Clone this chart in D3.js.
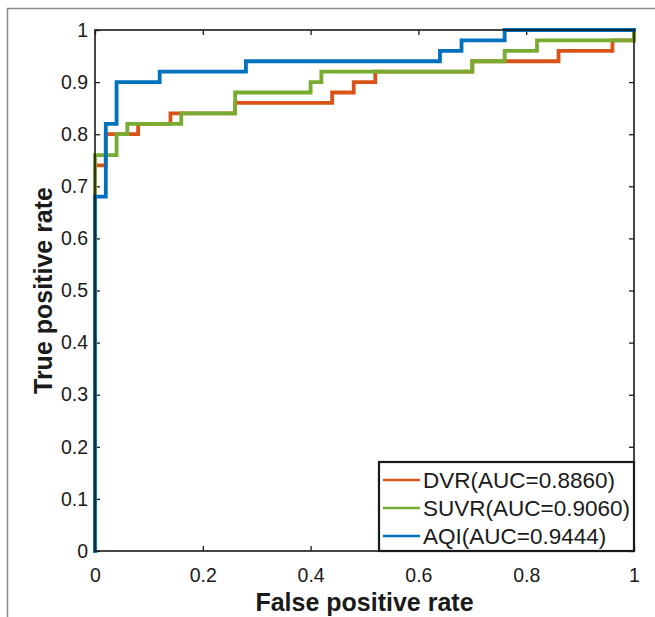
<!DOCTYPE html>
<html>
<head>
<meta charset="utf-8">
<script src="https://cdn.jsdelivr.net/npm/d3@7"></script>
<style>
  html, body { margin: 0; padding: 0; background: #fff; }
  svg { display: block; font-family: "Liberation Sans", Arial, Helvetica, sans-serif; }
</style>
</head>
<body>
<svg id="chart" width="655" height="617"></svg>
<script>
// ---- data (step vertices, curveStepAfter) ----
const dvrFpr  = [0, 0,    0.02, 0.08, 0.14, 0.26, 0.44, 0.48, 0.52, 0.70, 0.86, 0.96, 1];
const dvrTpr  = [0, 0.74, 0.80, 0.82, 0.84, 0.86, 0.88, 0.90, 0.92, 0.94, 0.96, 0.98, 1];
const suvrFpr = [0, 0,    0.04, 0.06, 0.16, 0.26, 0.40, 0.42, 0.70, 0.76, 0.82, 1];
const suvrTpr = [0, 0.76, 0.80, 0.82, 0.84, 0.88, 0.90, 0.92, 0.94, 0.96, 0.98, 1];
const aqiFpr  = [0, 0,    0.02, 0.04, 0.12, 0.28, 0.64, 0.68, 0.76, 1];
const aqiTpr  = [0, 0.68, 0.82, 0.90, 0.92, 0.94, 0.96, 0.98, 1.00, 1];

const seriesNames  = ["DVR(AUC=0.8860)", "SUVR(AUC=0.9060)", "AQI(AUC=0.9444)"];
const seriesColors = ["#D95319", "#77AC30", "#0072BD"];

const xTicks = [0, 0.2, 0.4, 0.6, 0.8, 1];
const xTickLabels = ["0", "0.2", "0.4", "0.6", "0.8", "1"];
const yTicks = [0, 0.1, 0.2, 0.3, 0.4, 0.5, 0.6, 0.7, 0.8, 0.9, 1];
const yTickLabels = ["0", "0.1", "0.2", "0.3", "0.4", "0.5", "0.6", "0.7", "0.8", "0.9", "1"];

const xLabel = "False positive rate";
const yLabel = "True positive rate";

// ---- layout ----
const svg = d3.select("#chart");
const L = 95, R = 634, T = 30, B = 551;
const x = d3.scaleLinear().domain([0, 1]).range([L, R]);
const y = d3.scaleLinear().domain([0, 1]).range([B, T]);
const textColor = "#1a1a1a";

// outer figure frame (top & left)
svg.append("path")
  .attr("d", "M7.5,617 L7.5,8.5 L655,8.5")
  .attr("fill", "none").attr("stroke", "#8a8a8a").attr("stroke-width", 1.5);

// axes
function styleAxis(g) {
  g.select(".domain").remove();
  g.selectAll(".tick line").attr("stroke", "#1a1a1a").attr("stroke-width", 1.3);
  g.selectAll(".tick text").attr("fill", textColor)
    .style("font-size", "19.5px").style("font-family", "'Liberation Sans', Arial, sans-serif");
}

svg.append("g").attr("transform", `translate(0,${B})`)
  .call(d3.axisBottom(x).tickValues(xTicks).tickFormat((d, i) => xTickLabels[i])
    .tickSizeInner(-5).tickSizeOuter(0).tickPadding(17))
  .call(styleAxis);
svg.append("g").attr("transform", `translate(0,${T})`)
  .call(d3.axisTop(x).tickValues(xTicks).tickFormat("")
    .tickSizeInner(-5).tickSizeOuter(0))
  .call(styleAxis);
svg.append("g").attr("transform", `translate(${L},0)`)
  .call(d3.axisLeft(y).tickValues(yTicks).tickFormat((d, i) => yTickLabels[i])
    .tickSizeInner(-5).tickSizeOuter(0).tickPadding(7))
  .call(styleAxis);
svg.append("g").attr("transform", `translate(${R},0)`)
  .call(d3.axisRight(y).tickValues(yTicks).tickFormat("")
    .tickSizeInner(-5).tickSizeOuter(0))
  .call(styleAxis);

// curves
const line = d3.line().x(d => x(d[0])).y(d => y(d[1])).curve(d3.curveStepAfter);
const series = [
  d3.zip(dvrFpr, dvrTpr),
  d3.zip(suvrFpr, suvrTpr),
  d3.zip(aqiFpr, aqiTpr)
];
series.forEach((pts, i) => {
  svg.append("path")
    .attr("d", line(pts))
    .attr("fill", "none")
    .attr("stroke", seriesColors[i])
    .attr("stroke-width", 3.8)
    .attr("stroke-linejoin", "miter")
    .attr("stroke-linecap", "square");
});

// box
svg.append("rect")
  .attr("x", L).attr("y", T).attr("width", R - L).attr("height", B - T)
  .attr("fill", "none").attr("stroke", "#1a1a1a").attr("stroke-width", 1.6);

// legend
const lg = svg.append("g");
const lgX = 379, lgY = 462, lgW = R - 379, lgH = B - 462;
lg.append("rect").attr("x", lgX).attr("y", lgY).attr("width", lgW).attr("height", lgH)
  .attr("fill", "#fff").attr("stroke", "#1a1a1a").attr("stroke-width", 2.2);
const rowY = [480, 508, 536];
seriesNames.forEach((name, i) => {
  lg.append("line").attr("x1", 383).attr("x2", 420).attr("y1", rowY[i]).attr("y2", rowY[i])
    .attr("stroke", seriesColors[i]).attr("stroke-width", 2.6);
  lg.append("text").attr("x", 423).attr("y", rowY[i] + 8)
    .attr("fill", textColor).style("font-size", "22.5px").text(name);
});

// axis labels
svg.append("text").attr("x", (L + R) / 2).attr("y", 611)
  .attr("text-anchor", "middle").attr("fill", textColor)
  .style("font-size", "25px").style("font-weight", "bold").text(xLabel);
svg.append("text").attr("transform", `translate(52,${(T + B) / 2}) rotate(-90)`)
  .attr("text-anchor", "middle").attr("fill", textColor)
  .style("font-size", "25px").style("font-weight", "bold").text(yLabel);
</script>
</body>
</html>
